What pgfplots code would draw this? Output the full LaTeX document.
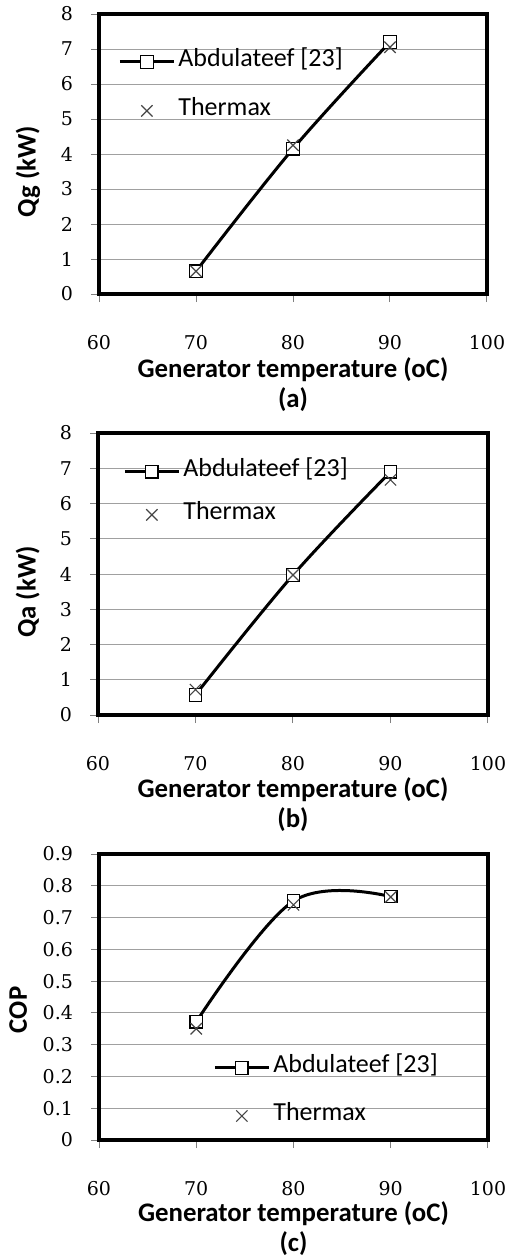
\documentclass[border=0pt]{standalone}
\usepackage{fontspec}
\setmainfont{Carlito}
\newfontfamily\tickfont{DejaVu Serif}
\usepackage{pgfplots}
\pgfplotsset{compat=1.18}

\definecolor{xgray}{RGB}{70,70,70}
\definecolor{gridgray}{RGB}{160,160,160}

\pgfplotsset{
  panel/.style={
    scale only axis, anchor=south west,
    xmin=60, xmax=100, xtick={60,70,80,90,100},
    tick pos=left, tick align=outside, major tick length=4pt,
    tick style={gray, line width=0.5pt},
    axis line style={line width=2pt, black},
    ymajorgrids, grid style={gridgray, line width=0.5pt},
    /pgf/number format/assume math mode=true,
    ticklabel style={font=\tickfont\fontsize{9.5}{11}\selectfont},
    x tick label style={yshift=-13pt},
    y tick label style={xshift=-5.5pt},
    label style={font=\bfseries\fontsize{13.4}{15}\selectfont},
    xlabel style={anchor=center, align=center},
    ylabel style={anchor=center},
    legend cell align=left,
    legend style={draw=none, fill=none, inner sep=0pt, anchor=north west,
      font=\fontsize{13}{15}\selectfont,
      nodes={inner sep=1.5pt, text height=0.7em, text depth=0.25em}},
    legend image code/.code={\draw[mark repeat=2,mark phase=2,##1]
      plot coordinates {(0pt,0pt)(13.5pt,0pt)(27pt,0pt)};},
  },
  abd/.style={black, line width=1.5pt, smooth, tension=0.6, mark=square*,
    mark size=3.1pt, mark options={solid, fill=white, line width=0.6pt}},
  thx/.style={only marks, mark=x, mark size=4pt, color=xgray,
    mark options={line width=0.6pt},
    legend image code/.code={\draw[mark repeat=2,mark phase=2,##1]
      plot coordinates {(0pt,0pt)(13.5pt,0pt)(27pt,0pt)};}},
}

\begin{document}
\begin{tikzpicture}
\useasboundingbox (0,0) rectangle (256.5pt,-628pt);

% (a) Qg
\begin{axis}[panel, at={(49.5pt,-147pt)}, width=194pt, height=140pt,
  ymin=0, ymax=8, ytick={0,1,...,8},
  ylabel={Qg (kW)}, ylabel style={at={(axis description cs:-0.183,0.436)}},
  xlabel={Generator temperature (oC)\\(a)},
  xlabel style={at={(axis description cs:0.5,-0.322)}},
  legend style={at={(0.049,0.875)}, row sep=12pt}]
\addplot[abd] coordinates {(70,0.65) (80,4.15) (90,7.2)};
\addplot[thx] coordinates {(70,0.65) (80,4.25) (90,7.05)};
\legend{Abdulateef [23], Thermax}
\end{axis}

% (b) Qa
\begin{axis}[panel, at={(49pt,-357.5pt)}, width=195pt, height=141pt,
  ymin=0, ymax=8, ytick={0,1,...,8},
  ylabel={Qa (kW)}, ylabel style={at={(axis description cs:-0.18,0.436)}},
  xlabel={Generator temperature (oC)\\(b)},
  xlabel style={at={(axis description cs:0.5,-0.318)}},
  legend style={at={(0.064,0.908)}, row sep=9pt}]
\addplot[abd] coordinates {(70,0.57) (80,3.97) (90,6.9)};
\addplot[thx] coordinates {(70,0.72) (80,3.97) (90,6.67)};
\legend{Abdulateef [23], Thermax}
\end{axis}

% (c) COP
\begin{axis}[panel, at={(49.5pt,-570pt)}, width=194.5pt, height=143pt,
  ymin=0, ymax=0.9, ytick={0,0.1,0.2,0.3,0.4,0.5,0.6,0.7,0.8,0.9},
  yticklabel style={/pgf/number format/fixed, /pgf/number format/precision=1},
  ylabel={COP}, ylabel style={at={(axis description cs:-0.208,0.455)}},
  xlabel={Generator temperature (oC)\\(c)},
  xlabel style={at={(axis description cs:0.5,-0.308)}},
  legend style={at={(0.293,0.297)}, row sep=11.5pt}]
\addplot[abd] coordinates {(70,0.372) (80,0.752) (90,0.766)};
\addplot[thx] coordinates {(70,0.35) (80,0.74) (90,0.765)};
\legend{Abdulateef [23], Thermax}
\end{axis}
\end{tikzpicture}
\end{document}
